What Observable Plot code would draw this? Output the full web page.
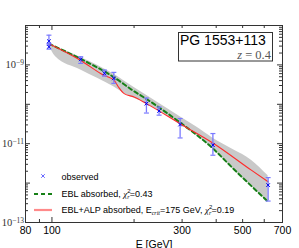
<!DOCTYPE html>
<html><head><meta charset="utf-8">
<script src="https://cdn.jsdelivr.net/npm/d3@7"></script>
<script src="https://cdn.jsdelivr.net/npm/@observablehq/plot@0.6"></script>
<style>
html,body{margin:0;padding:0;background:#fff;overflow:hidden;}
#chart svg{display:block;max-width:none;}
</style>
</head><body><div id="chart"></div>
<script>
// observed points
const obsE  = [97.5, 97.5, 127.5, 155.8, 168.6, 222, 247, 295, 389, 620];
const obsF  = [4.0e-9, 2.89e-9, 1.38e-9, 6.1e-10, 4.55e-10, 1.04e-10, 6.8e-11, 3.06e-11, 9.2e-12, 8.9e-13];
const obsHi = [5.68e-9, 3.5e-9, 1.61e-9, 7.38e-10, 6.46e-10, 1.44e-10, 8.5e-11, 4.36e-11, 1.81e-11, 1.38e-12];
const obsLo = [3.2e-9, 2.51e-9, 1.09e-9, 5.2e-10, 3.4e-10, 6.0e-11, 5.3e-11, 1.4e-11, 5.1e-12, 3.5e-13];

// EBL absorbed (green dashed)
const eblE = [97.5, 127.5, 169, 197.6, 221, 293, 389, 461, 620];
const eblF = [3.44e-9, 1.42e-9, 4.83e-10, 2.26e-10, 1.39e-10, 3.56e-11, 7.55e-12, 2.36e-12, 3.36e-13];

// EBL+ALP absorbed (red)
const alpE = [97.5, 127.5, 155, 169, 176, 184, 200, 222, 297, 390, 538, 620];
const alpF = [3.44e-9, 1.30e-9, 5.42e-10, 4.05e-10, 2.65e-10, 1.87e-10, 1.53e-10, 1.04e-10, 3.12e-11, 1.03e-11, 2.13e-12, 1.08e-12];

// grey uncertainty band
const bandE  = [97.5, 103, 127.5, 169, 184, 222, 297, 338, 389, 461, 538, 620];
const bandHi = [3.50e-9, 2.94e-9, 1.55e-9, 5.75e-10, 3.91e-10, 1.69e-10, 4.69e-11, 2.68e-11, 1.38e-11, 7.10e-12, 3.82e-12, 1.53e-12];
const bandLo = [3.12e-9, 1.64e-9, 7.47e-10, 2.74e-10, 1.87e-10, 1.04e-10, 3.03e-11, 1.69e-11, 7.55e-12, 2.36e-12, 8.55e-13, 3.36e-13];

// ticks
const xTickVals = [80, 100, 300, 500, 700];
const xTickLabels = ["80", "100", "300", "500", "700"];
const xMajor = [100];
const xMinor = [90, 200, 300, 400, 500, 600];
const yTickVals = [1e-9, 1e-11, 1e-13];
const yTickExps = ["\u22129", "\u221211", "\u221213"];
const yMajor = [1e-13, 1e-12, 1e-11, 1e-10, 1e-9, 1e-8];
const yMinor = [];
for (const dec of [1e-13, 1e-12, 1e-11, 1e-10, 1e-9]) for (let k = 2; k <= 9; k++) yMinor.push(k * dec);

const W = 299, H = 248, mL = 25, mR = 17, mT = 25, mB = 26;
const pW = W - mL - mR, pH = H - mT - mB;

const obs = obsE.map((e, i) => ({E: e, F: obsF[i], hi: obsHi[i], lo: obsLo[i]}));
const ebl = eblE.map((e, i) => ({E: e, F: eblF[i]}));
const alp = alpE.map((e, i) => ({E: e, F: alpF[i]}));
const band = bandE.map((e, i) => ({E: e, hi: bandHi[i], lo: bandLo[i]}));

const capSym = {draw(ctx, size) { const r = Math.sqrt(size / Math.PI); ctx.moveTo(-r, 0); ctx.lineTo(r, 0); }};
const errCol = "#7a7aff";
const sans = "'Liberation Sans', Arial, Helvetica, sans-serif";
const serif = "'Liberation Serif', 'DejaVu Serif', serif";

const chart = Plot.plot({
  width: W, height: H, marginLeft: mL, marginRight: mR, marginTop: mT, marginBottom: mB,
  x: {type: "log", domain: [80, 700], axis: null},
  y: {type: "log", domain: [1e-13, 1e-8], axis: null},
  style: {fontFamily: sans, background: "#fff", color: "#000"},
  marks: [
    Plot.areaY(band, {x: "E", y1: "lo", y2: "hi", fill: "#c9c9c9", curve: "monotone-x"}),
    Plot.line(ebl, {x: "E", y: "F", stroke: "#168016", strokeWidth: 2, strokeDasharray: "4,3", curve: "monotone-x"}),
    Plot.line(alp, {x: "E", y: "F", stroke: "#ff2a2a", strokeWidth: 1.1, curve: "monotone-x"}),
    Plot.ruleX(obs, {x: "E", y1: "lo", y2: "hi", stroke: errCol, strokeWidth: 1.3}),
    Plot.dot(obs, {x: "E", y: "hi", symbol: capSym, r: 2.5, stroke: errCol, strokeWidth: 1.2}),
    Plot.dot(obs, {x: "E", y: "lo", symbol: capSym, r: 2.5, stroke: errCol, strokeWidth: 1.2}),
    Plot.dot(obs, {x: "E", y: "F", symbol: "times", r: 1.8, stroke: "#0000ee", strokeWidth: 1}),
    // inward ticks
    Plot.tickX(xMajor, {x: d => d, insetTop: pH - 5, stroke: "#333"}),
    Plot.tickX(xMajor, {x: d => d, insetBottom: pH - 5, stroke: "#333"}),
    Plot.tickX(xMinor, {x: d => d, insetTop: pH - 3, stroke: "#333"}),
    Plot.tickX(xMinor, {x: d => d, insetBottom: pH - 3, stroke: "#333"}),
    Plot.tickY(yMajor, {y: d => d, insetRight: pW - 5, stroke: "#333"}),
    Plot.tickY(yMajor, {y: d => d, insetLeft: pW - 5, stroke: "#333"}),
    Plot.tickY(yMinor, {y: d => d, insetRight: pW - 3, stroke: "#333"}),
    Plot.tickY(yMinor, {y: d => d, insetLeft: pW - 3, stroke: "#333"}),
    Plot.frame({stroke: "#333", strokeWidth: 1}),
    Plot.text(xTickVals, {x: d => d, text: d => xTickLabels[xTickVals.indexOf(d)], frameAnchor: "bottom",
      dy: 4, lineAnchor: "top", fontSize: 10.5}),
    Plot.axisY(yTickVals, {tickSize: 0, tickPadding: 1.5, fontSize: 10.5, fontFamily: serif, fill: "#333", label: null,
      tickFormat: d => yTickExps[yTickVals.indexOf(d)]}),
    Plot.text(["E [GeV]"], {frameAnchor: "bottom", dy: 25, text: d => d, fontSize: 10.5, lineAnchor: "bottom"})
  ]
});

const svg = d3.select(chart);

// rebuild y tick labels as 10 with superscript exponent
svg.selectAll('g[aria-label="y-axis tick label"] text').each(function () {
  const exp = this.textContent;
  const t = d3.select(this);
  t.text("");
  t.append("tspan").text("10");
  t.append("tspan").attr("font-size", 7.5).attr("dy", "-0.45em").text(exp);
});

// Legend (lower left inside the axes)
const lg = svg.append("g").attr("font-family", sans).attr("font-size", 9).attr("text-anchor", "start");
lg.append("path").attr("d", d3.symbol(d3.symbolTimes, 10)()).attr("transform", "translate(43,176)")
  .attr("fill", "none").attr("stroke", "#4040ff").attr("stroke-width", 0.8);
lg.append("text").attr("x", 61.5).attr("y", 179.5).text("observed");
lg.append("line").attr("x1", 34).attr("x2", 52).attr("y1", 194).attr("y2", 194)
  .attr("stroke", "#168016").attr("stroke-width", 2).attr("stroke-dasharray", "4,3");
function chiText(x, y, pre, val, extra) {
  const t = lg.append("text").attr("x", x).attr("y", y);
  t.append("tspan").text(pre);
  if (extra) extra(t);
  t.append("tspan").attr("font-family", serif).attr("font-style", "italic").text("\u03C7");
  t.append("tspan").attr("font-size", 6).attr("dy", -3.5).text("2");
  t.append("tspan").attr("font-size", 6).attr("font-family", serif).attr("font-style", "italic").attr("dx", -3.2).attr("dy", 6).text("r");
  t.append("tspan").attr("dy", -2.5).text("=" + val);
}
chiText(61.5, 196.5, "EBL absorbed, ", "0.43");
lg.append("line").attr("x1", 34).attr("x2", 52).attr("y1", 210).attr("y2", 210)
  .attr("stroke", "#ff8a8a").attr("stroke-width", 2.2);
chiText(61.5, 212.5, "EBL+ALP absorbed, ", "0.19", t => {
  t.append("tspan").text("E");
  t.append("tspan").attr("font-size", 6).attr("font-family", serif).attr("font-style", "italic").attr("dy", 2).text("crit");
  t.append("tspan").attr("dy", -2).text("=175 GeV, ");
});

// Source box (upper right)
const bx = svg.append("g").attr("text-anchor", "start");
bx.append("rect").attr("x", 178.5).attr("y", 32.5).attr("width", 94).attr("height", 28.5)
  .attr("fill", "#fff").attr("stroke", "#333").attr("stroke-width", 1);
bx.append("text").attr("x", 180).attr("y", 44.5).attr("font-family", sans).attr("font-size", 14).text("PG 1553+113");
const zt = bx.append("text").attr("x", 271).attr("y", 58.5).attr("text-anchor", "end")
  .attr("font-family", serif).attr("font-size", 12.5).attr("fill", "#555");
zt.append("tspan").attr("font-style", "italic").text("z");
zt.append("tspan").text(" = 0.4");

document.getElementById("chart").appendChild(chart);
</script>
</body></html>
